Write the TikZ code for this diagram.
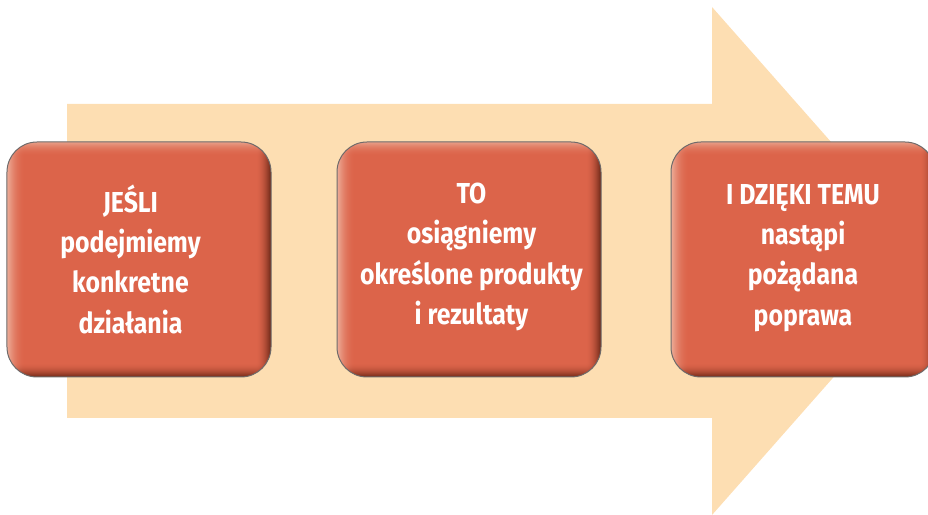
\documentclass[tikz,border=0pt]{standalone}
\usepackage{fontspec}
\newfontfamily\boxfont{Fira Sans}[FakeStretch=0.86]

\definecolor{arrowfill}{HTML}{FDDEB2}
\definecolor{boxline}{HTML}{6E6A6A}

% Bevelled box face: light left/top rim, dark right/bottom rim.
% Input x y (bp); the path maps to the 25..75 square.
\pgfdeclarefunctionalshading{bevelbox}{\pgfpointorigin}{\pgfpoint{100bp}{100bp}}{}{
 1 index 25 sub 3.4 div dup abs add 2 div dup 1 sub abs neg 1 add add 2 div 1 exch sub dup mul
 2 index 75 exch sub 3.0 div dup abs add 2 div dup 1 sub abs neg 1 add add 2 div 1 exch sub dup mul
 2 index 75 exch sub 3.0 div dup abs add 2 div dup 1 sub abs neg 1 add add 2 div 1 exch sub dup mul
 3 index 25 sub 3.2 div dup abs add 2 div dup 1 sub abs neg 1 add add 2 div 1 exch sub dup mul
 6 4 roll pop pop
 3 index 0.067 mul 3 index -0.463 mul add 2 index 0.047 mul add 1 index -0.433 mul add 0.863 add
 4 index 0.288 mul 4 index -0.252 mul add 3 index 0.228 mul add 2 index -0.242 mul add 0.392 add
 5 index 0.310 mul 5 index -0.210 mul add 4 index 0.240 mul add 3 index -0.210 mul add 0.290 add
 7 3 roll pop pop pop pop
}

\tikzset{
  stepbox/.style={shading=bevelbox, draw=boxline, line width=1bp,
    rounded corners=30bp, minimum width=264bp, minimum height=235bp,
    inner sep=0pt, outer sep=0pt},
  boxtext/.style={text=white, align=center, inner sep=0pt,
    font=\boxfont\bfseries\fontsize{29}{40.5}\selectfont}
}

\begin{document}
\begin{tikzpicture}[x=1bp,y=1bp]
\useasboundingbox (0,0) rectangle (928,515);
\clip (0,0) rectangle (928,515);

% background arrow
\fill[arrowfill] (67,97) -- (712,97) -- (712,0) -- (936,254)
  -- (712,508) -- (712,411) -- (67,411) -- cycle;

% three steps
\node[stepbox] (b1) at (139,255.5) {};
\node[stepbox] (b2) at (469,255.5) {};
\node[stepbox] (b3) at (803,255.5) {};

\node[boxtext] (t1) at (130.5,256) {JEŚLI\\podejmiemy\\konkretne\\działania};
\node[boxtext] (t2) at (471.5,258) {TO\\osiągniemy\\określone produkty\\i rezultaty};
\node[boxtext] (t3) at (803,257) {I DZIĘKI TEMU\\nastąpi\\pożądana\\poprawa};
\end{tikzpicture}
\end{document}
